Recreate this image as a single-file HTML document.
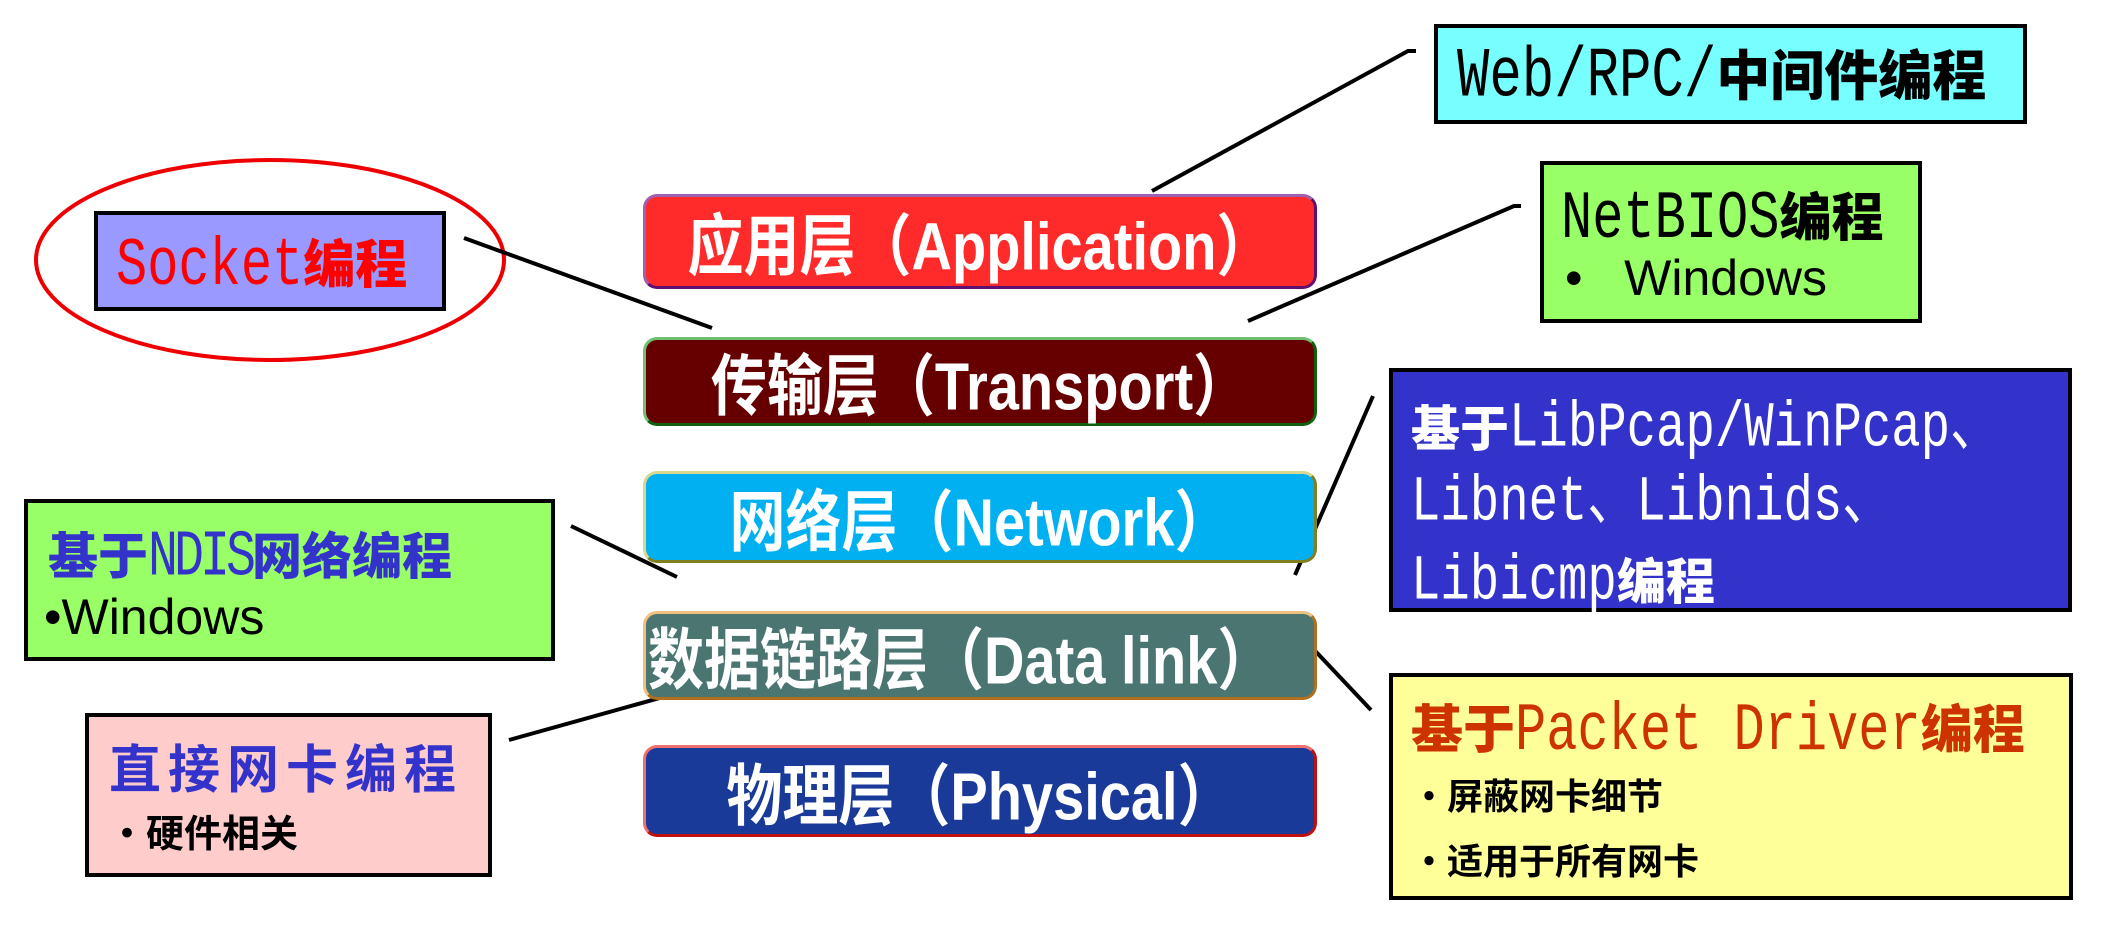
<!DOCTYPE html>
<html><head><meta charset="utf-8"><style>
body{margin:0;width:2109px;height:934px;background:#fff;position:relative;overflow:hidden;font-family:"Liberation Sans","Noto Sans CJK SC",sans-serif}
.a{position:absolute;box-sizing:border-box}
.box{border:4px solid #000}
.layer{border-radius:14px;color:#fff;font-weight:bold;display:flex;align-items:center;justify-content:center;font-size:56px;white-space:nowrap;border-width:3px;border-style:solid}
.layer span{display:inline-block;transform:scaleY(1.2)}
.m{font-family:"Liberation Mono","Noto Sans CJK SC",monospace;display:inline-block;transform:scaleY(1.3);transform-origin:50% 70%}
.cj{font-family:"Noto Sans CJK SC",sans-serif;font-weight:900}
.t{position:absolute;white-space:nowrap;line-height:1}
</style></head><body>
<svg class="a" style="left:0;top:0" width="2109" height="934">
<ellipse cx="270" cy="260" rx="234" ry="100" fill="none" stroke="#e00" stroke-width="4"/>
<g stroke="#000" stroke-width="4" fill="none">
<polyline points="464,238 712,328"/>
<polyline points="1152,191 1408,51 1416,51"/>
<polyline points="1248,321 1514,206 1521,206"/>
<polyline points="571,526 677,577"/>
<polyline points="509,740 674,694"/>
<polyline points="1295,575 1373,396"/>
<polyline points="1286,620 1371,710"/>
</g></svg>

<div class="a layer" style="left:643px;top:194px;width:674px;height:95px;background:#ff2b2b;border-color:#a060b0 #601070 #601070 #a060b0"><span>应用层（Application）</span></div>
<div class="a layer" style="left:643px;top:337px;width:674px;height:89px;background:#660000;border-color:#70c070 #106010 #106010 #70c070"><span>传输层（Transport）</span></div>
<div class="a layer" style="left:643px;top:471px;width:674px;height:92px;background:#00b0f0;border-color:#d8d890 #808020 #808020 #d8d890"><span>网络层（Network）</span></div>
<div class="a layer" style="left:643px;top:611px;width:674px;height:89px;background:#4a7570;border-color:#f0c080 #b07020 #b07020 #f0c080;justify-content:flex-start;padding-left:2px"><span>数据链路层（Data link）</span></div>
<div class="a layer" style="left:643px;top:745px;width:674px;height:92px;background:#1a3a99;border-color:#f07070 #c01010 #c01010 #f07070"><span>物理层（Physical）</span></div>

<div class="a box" style="left:94px;top:211px;width:352px;height:100px;background:#9999ff"></div>
<div class="t" style="left:116px;top:235px;font-size:52px;color:#f00"><span class="m">Socket</span><span class="cj">编程</span></div>

<div class="a box" style="left:1434px;top:24px;width:593px;height:100px;background:#77ffff"></div>
<div class="t" style="left:1457px;top:45px;font-size:54px;color:#000"><span class="m">Web/RPC/</span><span class="cj">中间件编程</span></div>

<div class="a box" style="left:1540px;top:161px;width:382px;height:162px;background:#99ff66"></div>
<div class="t" style="left:1561px;top:188px;font-size:52px"><span class="m">NetBIOS</span><span class="cj">编程</span></div>
<div class="t" style="left:1565px;top:253px;font-size:50px">•&nbsp;&nbsp;&nbsp;Windows</div>

<div class="a box" style="left:1389px;top:368px;width:683px;height:244px;background:#3333cc"></div>
<div class="t" style="left:1411px;top:390px;font-size:49px;color:#fff;line-height:71px"><span class="cj">基于</span><span class="m">LibPcap/WinPcap、</span><br><span class="m">Libnet、Libnids、</span><br><span class="m">Libicmp</span><span class="cj">编程</span></div>

<div class="a box" style="left:1389px;top:673px;width:684px;height:227px;background:#ffff99"></div>
<div class="t" style="left:1411px;top:700px;font-size:52px;color:#cc3300"><span class="cj">基于</span><span class="m">Packet Driver</span><span class="cj">编程</span></div>
<div class="t cj" style="left:1411px;top:776px;font-size:36px;font-weight:700">•屏蔽网卡细节</div>
<div class="t cj" style="left:1411px;top:841px;font-size:36px;font-weight:700">•适用于所有网卡</div>

<div class="a box" style="left:24px;top:499px;width:531px;height:162px;background:#99ff66"></div>
<div class="t" style="left:48px;top:528px;font-size:50px;color:#3333cc"><span class="cj">基于</span><span class="m" style="letter-spacing:-4px">NDIS</span><span class="cj">网络编程</span></div>
<div class="t" style="left:44px;top:592px;font-size:50px">•Windows</div>

<div class="a box" style="left:85px;top:713px;width:407px;height:164px;background:#ffcccc"></div>
<div class="t cj" style="left:109px;top:740px;font-size:52px;color:#3333cc;font-weight:700;letter-spacing:7px">直接网卡编程</div>
<div class="t cj" style="left:108px;top:812px;font-size:38px;font-weight:700">•硬件相关</div>
</body></html>
